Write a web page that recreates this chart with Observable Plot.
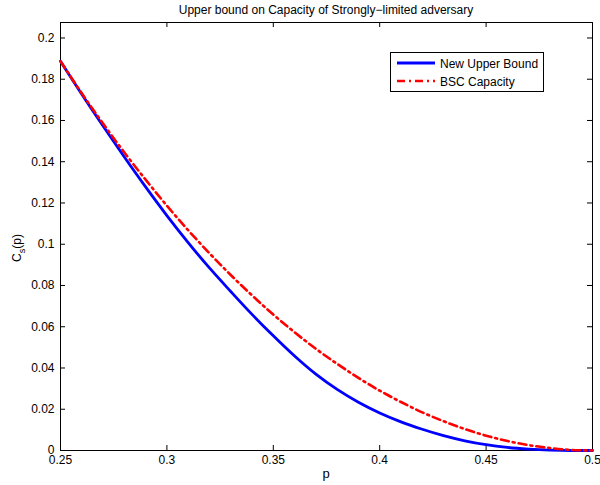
<!DOCTYPE html>
<html>
<head>
<meta charset="utf-8">
<script src="https://cdn.jsdelivr.net/npm/d3@7"></script>
<script src="https://cdn.jsdelivr.net/npm/@observablehq/plot@0.6"></script>
<style>
  html, body { margin: 0; padding: 0; background: #fff; }
  #chart { position: relative; width: 600px; height: 485px; }
</style>
</head>
<body>
<div id="chart"></div>
<script>
// ---- data ----
const p = [0.25, 0.26, 0.27, 0.28, 0.29, 0.30, 0.31, 0.32, 0.33, 0.34, 0.35, 0.36, 0.37,
           0.38, 0.39, 0.40, 0.41, 0.42, 0.43, 0.44, 0.45, 0.46, 0.47, 0.48, 0.49, 0.50];
const newUpperBound = [0.1887, 0.1727, 0.1573, 0.1423, 0.1278, 0.1139, 0.1008, 0.0885, 0.0771,
                       0.0660, 0.0556, 0.0458, 0.0370, 0.0296, 0.0234, 0.0182, 0.0139, 0.0103,
                       0.0072, 0.0047, 0.0028, 0.0015, 0.0007, 0.0002, 0.0000, 0.0000];
const bscCapacity = [0.1887, 0.1732, 0.1585, 0.1445, 0.1313, 0.1187, 0.1068, 0.0956, 0.0851,
                     0.0752, 0.0659, 0.0573, 0.0493, 0.0420, 0.0352, 0.0290, 0.0235, 0.0185,
                     0.0142, 0.0104, 0.0072, 0.0046, 0.0026, 0.0012, 0.0003, 0.0000];
const seriesNames = ["New Upper Bound", "BSC Capacity"];
const xTicks = [0.25, 0.3, 0.35, 0.4, 0.45, 0.5];
const xTickLabels = ["0.25", "0.3", "0.35", "0.4", "0.45", "0.5"];
const yTicks = [0, 0.02, 0.04, 0.06, 0.08, 0.1, 0.12, 0.14, 0.16, 0.18, 0.2];
const yTickLabels = ["0", "0.02", "0.04", "0.06", "0.08", "0.1", "0.12", "0.14", "0.16", "0.18", "0.2"];
const title = "Upper bound on Capacity of Strongly\u2212limited adversary";
const xLabel = "p";

// ---- layout ----
const W = 600, H = 485;
const mL = 60, mR = 8, mT = 22, mB = 35;
const plotW = W - mL - mR, plotH = H - mT - mB;
const tickLen = 5;
const font = "'Liberation Sans', Arial, Helvetica, sans-serif";

const blueData = p.map((v, i) => ({p: v, c: newUpperBound[i]}));
const redData = p.map((v, i) => ({p: v, c: bscCapacity[i]}));

const chart = Plot.plot({
  width: W, height: H,
  marginLeft: mL, marginRight: mR, marginTop: mT, marginBottom: mB,
  style: {fontFamily: font, fontSize: "12px", color: "black", background: "white", overflow: "visible"},
  x: {domain: [0.25, 0.5], label: null},
  y: {domain: [0, 0.2075], label: null},
  marks: [
    Plot.frame({stroke: "black", strokeWidth: 1}),
    // inward ticks on all four sides
    Plot.tickX(xTicks, {x: d => d, insetTop: plotH - tickLen, stroke: "black"}),
    Plot.tickX(xTicks, {x: d => d, insetBottom: plotH - tickLen, stroke: "black"}),
    Plot.tickY(yTicks, {y: d => d, insetRight: plotW - tickLen, stroke: "black"}),
    Plot.tickY(yTicks, {y: d => d, insetLeft: plotW - tickLen, stroke: "black"}),
    Plot.axisX({ticks: xTicks, tickSize: 0, tickPadding: 5, tickFormat: d => xTickLabels[xTicks.indexOf(d)], label: null, fontSize: 12}),
    Plot.axisY({ticks: yTicks, tickSize: 0, tickPadding: 6, tickFormat: d => yTickLabels[yTicks.indexOf(d)], label: null, fontSize: 12}),
    Plot.line(blueData, {x: "p", y: "c", stroke: "#0000ff", strokeWidth: 2.8, curve: "monotone-x"}),
    Plot.line(redData, {x: "p", y: "c", stroke: "#ff0000", strokeWidth: 2.6, strokeDasharray: "8,4,2,4", curve: "monotone-x"})
  ]
});
document.getElementById("chart").appendChild(chart);

// ---- annotations (title, axis labels, legend) ----
const svg = d3.select(chart);
svg.append("text")
  .attr("x", mL + plotW / 2).attr("y", 14)
  .attr("text-anchor", "middle").attr("font-size", 12).attr("font-family", font).attr("fill", "black")
  .text(title);
svg.append("text")
  .attr("x", mL + plotW / 2).attr("y", 478)
  .attr("text-anchor", "middle").attr("font-size", 13).attr("font-family", font).attr("fill", "black")
  .text(xLabel);
const yl = svg.append("text")
  .attr("transform", `translate(21,${mT + plotH / 2 + 12}) rotate(-90)`)
  .attr("text-anchor", "middle").attr("font-size", 12).attr("font-family", font).attr("fill", "black");
yl.append("tspan").text("C");
yl.append("tspan").attr("font-size", 9).attr("dy", 4).text("s");
yl.append("tspan").attr("dy", -4).text("(p)");

// legend
const lg = svg.append("g").attr("text-anchor", "start");
lg.append("rect").attr("x", 390.5).attr("y", 52.5).attr("width", 153).attr("height", 39)
  .attr("fill", "white").attr("stroke", "black").attr("stroke-width", 1);
const legendStyles = [
  {stroke: "#0000ff", width: 2.8, dash: null},
  {stroke: "#ff0000", width: 2.6, dash: "8,4,2,4"}
];
seriesNames.forEach((name, i) => {
  const yy = 63 + i * 18;
  const ln = lg.append("line").attr("x1", 397).attr("x2", 435).attr("y1", yy).attr("y2", yy)
    .attr("stroke", legendStyles[i].stroke).attr("stroke-width", legendStyles[i].width);
  if (legendStyles[i].dash) ln.attr("stroke-dasharray", legendStyles[i].dash);
  lg.append("text").attr("x", 440).attr("y", yy + 4.5).attr("text-anchor", "start")
    .attr("font-size", 12).attr("font-family", font).attr("fill", "black").text(name);
});
</script>
</body>
</html>
